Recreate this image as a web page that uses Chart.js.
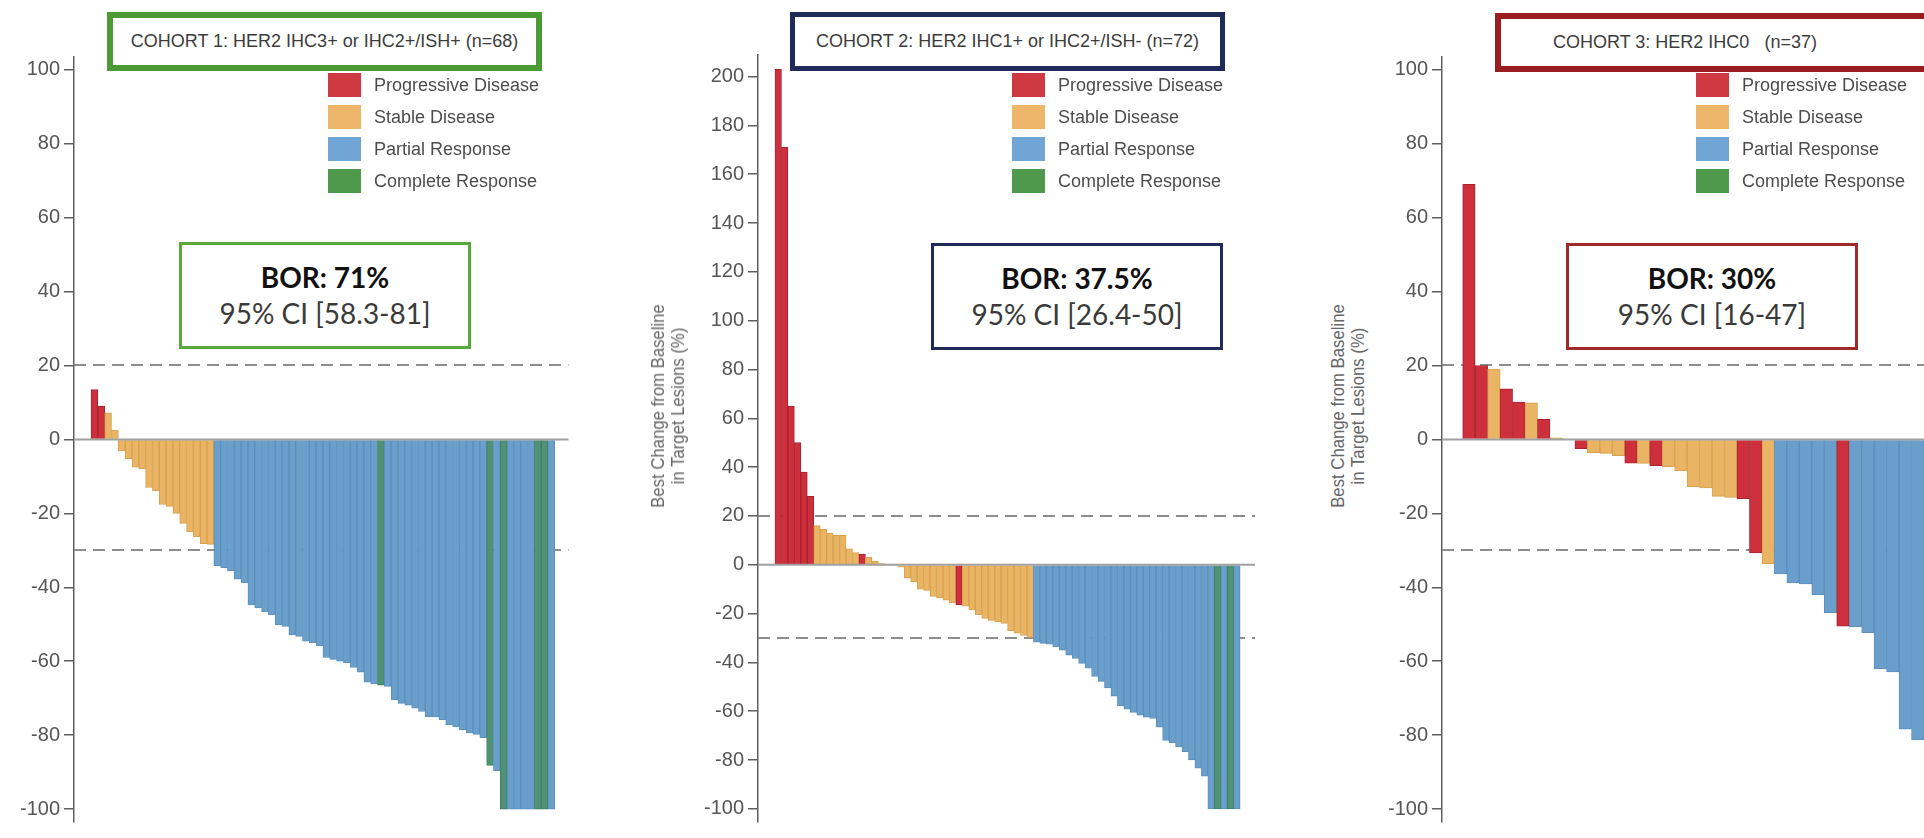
<!DOCTYPE html>
<html>
<head>
<meta charset="utf-8">
<script src="https://cdn.jsdelivr.net/npm/chart.js@4.4.1/dist/chart.umd.min.js"></script>
<style>
html, body { margin: 0; padding: 0; background: #fff; }
body { width: 1924px; height: 838px; overflow: hidden; position: relative; font-family: "Liberation Sans", Arial, sans-serif; }
canvas { position: absolute; top: 0; }
.cohort { position: absolute; box-sizing: border-box; height: 59px; background: #fff; font-size: 18px; color: #3c3c3c; white-space: nowrap; text-align: center; }
.legend { position: absolute; top: 73px; font-size: 18px; color: #4d4d4d; }
.legend div { position: relative; height: 32px; line-height: 24px; padding-left: 46px; white-space: nowrap; }
.legend span { position: absolute; left: 0; top: 0; width: 33px; height: 24px; }
.bor { position: absolute; box-sizing: border-box; width: 292px; height: 107px; border: 3px solid; background: #fff; text-align: center; font-family: Lato, "Open Sans", sans-serif; font-size: 28px; line-height: 36px; padding-top: 14px; color: #3a3a3a; }
.bor b { color: #111; }
.ytitle { position: absolute; width: 260px; height: 40px; font-size: 19px; line-height: 20px; color: #666; text-align: center; transform: rotate(-90deg) scaleX(0.88); white-space: nowrap; }
</style>
</head>
<body>
<canvas id="c1" width="600" height="838" style="left:0px"></canvas>
<canvas id="c2" width="600" height="838" style="left:680px"></canvas>
<canvas id="c3" width="554" height="838" style="left:1370px"></canvas>

<div class="cohort" style="left:107px; top:12px; width:435px; border:6px solid #4b9a33; line-height:47px;">COHORT 1: HER2 IHC3+ or IHC2+/ISH+ (n=68)</div>
<div class="cohort" style="left:790px; top:12px; width:435px; border:5px solid #1f2c5a; line-height:49px;">COHORT 2: HER2 IHC1+ or IHC2+/ISH- (n=72)</div>
<div class="cohort" style="left:1495px; top:13px; width:480px; border:6px solid #9a1e20; line-height:46px; text-align:left; padding-left:52px;">COHORT 3: HER2 IHC0&nbsp;&nbsp;&nbsp;(n=37)</div>

<div class="legend" id="leg1" style="left:328px"></div>
<div class="legend" id="leg2" style="left:1012px"></div>
<div class="legend" id="leg3" style="left:1696px"></div>

<div class="bor" style="left:179px; top:242px; border-color:#5aa83c;"><b>BOR: 71%</b><br>95% CI [58.3-81]</div>
<div class="bor" style="left:931px; top:243px; border-color:#1f2c5a;"><b>BOR: 37.5%</b><br>95% CI [26.4-50]</div>
<div class="bor" style="left:1566px; top:243px; border-color:#a02a2a;"><b>BOR: 30%</b><br>95% CI [16-47]</div>

<div class="ytitle" style="left:538px; top:386px;">Best Change from Baseline<br>in Target Lesions (%)</div>
<div class="ytitle" style="left:1218px; top:386px;">Best Change from Baseline<br>in Target Lesions (%)</div>

<script>
// P = progressive, S = stable, R = partial response, C = complete response
const LEGEND_LABELS = ['Progressive Disease', 'Stable Disease', 'Partial Response', 'Complete Response'];
const LEGEND_CODES = ['P', 'S', 'R', 'C'];
const LEGEND_COLORS = { P: '#cf3941', S: '#eeb66b', R: '#70a5d5', C: '#4e994b' };
const BAR_FILL = { P: '#cd2f3c', S: '#e9b463', R: '#6b9fcb', C: '#4f9276' };
const BAR_EDGE = { P: '#a8232f', S: '#d9a04e', R: '#5b8fbc', C: '#417f63' };

const REF_LINES = [20, -30];
const TICKS_100 = [100, 80, 60, 40, 20, 0, -20, -40, -60, -80, -100];
const TICKS_200 = [200, 180, 160, 140, 120, 100, 80, 60, 40, 20, 0, -20, -40, -60, -80, -100];

const C1_VALUES = [13.5, 9, 7.2, 2.5, -3.1, -5.2, -7.5, -7.9, -13, -13.9, -17.6, -18.1, -20, -22.7, -25, -26.3, -28.2, -28.4,
    -34.2, -34.7, -35.6, -37.8, -38.8, -44.8, -45.6, -46.6, -47.5, -50.2, -50.6, -52.8, -53.3, -54.6, -55, -55.9,
    -59, -59.5, -60, -60.4, -61.7, -63, -65.7, -66.1, -66.5, -66.8, -70.5, -71.4, -71.9, -72.7, -73.6, -75,
    -75.1, -75.8, -77.2, -77.8, -78.5, -79.4, -79.8, -80.7, -88.2, -89.6, -100, -100, -100, -100, -100, -100, -100, -100];
const C1_STATUS = ['P', 'P', 'S', 'S', 'S', 'S', 'S', 'S', 'S', 'S', 'S', 'S', 'S', 'S', 'S', 'S', 'S', 'S',
    'R', 'R', 'R', 'R', 'R', 'R', 'R', 'R', 'R', 'R', 'R', 'R', 'R', 'R', 'R', 'R',
    'R', 'R', 'R', 'R', 'R', 'R', 'R', 'R', 'C', 'R', 'R', 'R', 'R', 'R', 'R', 'R',
    'R', 'R', 'R', 'R', 'R', 'R', 'R', 'R', 'C', 'R', 'C', 'R', 'R', 'R', 'R', 'C', 'C', 'R'];

const C2_VALUES = [203, 171, 65, 50, 38, 28, 16, 14.5, 13, 12, 12, 6.5, 5, 4.3, 3, 1.5, 0.5, 0.2, -0.3, -1,
    -5.5, -7, -10, -10.5, -13, -13.5, -14.5, -15.5, -16.5, -17, -18.5, -20.5, -22, -22.8, -23.3, -24, -27, -28, -29, -29.8,
    -31.7, -32.2, -32.5, -33.7, -35, -37, -38.4, -40.4, -42.4, -45.8, -47.8, -50.5, -53.8, -57.8, -59.2, -60.5,
    -61.6, -62.5, -63, -66.5, -72, -73, -74.6, -76.6, -80, -83.3, -86.6, -100, -100, -100, -100, -100];
const C2_STATUS = ['P', 'P', 'P', 'P', 'P', 'P', 'S', 'S', 'S', 'S', 'S', 'S', 'S', 'P', 'S', 'S', 'S', 'S', 'S', 'S',
    'S', 'S', 'S', 'S', 'S', 'S', 'S', 'S', 'P', 'S', 'S', 'S', 'S', 'S', 'S', 'S', 'S', 'S', 'S', 'S',
    'R', 'R', 'R', 'R', 'R', 'R', 'R', 'R', 'R', 'R', 'R', 'R', 'R', 'R', 'R', 'R',
    'R', 'R', 'R', 'R', 'R', 'R', 'R', 'R', 'R', 'R', 'R', 'R', 'C', 'R', 'C', 'R'];

const C3_VALUES = [69, 20, 19, 13.7, 10.1, 9.9, 5.4, 0.4, 0, -2.5, -3.6, -3.8, -4.4, -6.4, -6.5, -7.1, -7.4, -8.5,
    -12.8, -13.1, -15.4, -15.7, -16, -30.7, -33.6, -36.4, -38.8, -39.1, -42, -46.9, -50.5, -50.7, -52.3,
    -62.1, -62.9, -78.4, -81.3];
const C3_STATUS = ['P', 'P', 'S', 'P', 'P', 'S', 'P', 'S', 'S', 'P', 'S', 'S', 'S', 'P', 'S', 'P', 'S', 'S',
    'S', 'S', 'S', 'S', 'P', 'P', 'S', 'R', 'R', 'R', 'R', 'R', 'P', 'R', 'R',
    'R', 'R', 'R', 'R'];

const refLinesPlugin = {
    id: 'refLines',
    beforeDatasetsDraw(chart) {
        const { ctx, chartArea, scales } = chart;
        ctx.save();
        ctx.strokeStyle = '#8d8d8d';
        ctx.lineWidth = 2;
        ctx.setLineDash([12, 7]);
        REF_LINES.forEach(v => {
            const py = Math.round(scales.y.getPixelForValue(v));
            ctx.beginPath();
            ctx.moveTo(chartArea.left, py);
            ctx.lineTo(chartArea.right, py);
            ctx.stroke();
        });
        ctx.restore();
    },
    afterDatasetsDraw(chart) {
        const { ctx, chartArea, scales } = chart;
        const py = scales.y.getPixelForValue(0);
        ctx.save();
        ctx.strokeStyle = '#a0a0a0';
        ctx.lineWidth = 2;
        ctx.beginPath();
        ctx.moveTo(chartArea.left, py);
        ctx.lineTo(chartArea.right, py);
        ctx.stroke();
        ctx.restore();
    }
};

function fillLegend(id) {
    const el = document.getElementById(id);
    LEGEND_CODES.forEach((code, i) => {
        const row = document.createElement('div');
        row.innerHTML = '<span style="background:' + LEGEND_COLORS[code] + '"></span>' + LEGEND_LABELS[i];
        el.appendChild(row);
    });
}

function createChart(id, values, status, ticks, cfg) {
    return new Chart(document.getElementById(id), {
        type: 'bar',
        plugins: [refLinesPlugin],
        data: {
            datasets: [{
                data: values.map((v, i) => ({ x: i, y: v })),
                backgroundColor: status.map(s => BAR_FILL[s]),
                borderColor: status.map(s => BAR_EDGE[s]),
                borderWidth: 1,
                categoryPercentage: 1,
                barPercentage: 1
            }]
        },
        options: {
            responsive: false,
            animation: false,
            layout: { padding: { left: 0, right: cfg.right, top: cfg.top, bottom: 0 } },
            plugins: { legend: { display: false }, tooltip: { enabled: false } },
            scales: {
                x: { type: 'linear', min: cfg.xMin, max: cfg.xMax, offset: false, display: false },
                y: {
                    min: cfg.yMin,
                    max: cfg.yMax,
                    afterBuildTicks: scale => { scale.ticks = ticks.map(v => ({ value: v })); },
                    afterFit: scale => { scale.width = cfg.axis; },
                    border: { color: '#5e5e5e', width: 1.5 },
                    grid: { drawOnChartArea: false, drawTicks: true, tickLength: 10, color: '#5e5e5e', lineWidth: 1.5 },
                    ticks: { autoSkip: false, color: '#555', padding: 4, font: { family: 'Liberation Sans', size: 20 } }
                }
            }
        }
    });
}

fillLegend('leg1');
fillLegend('leg2');
fillLegend('leg3');

createChart('c1', C1_VALUES, C1_STATUS, TICKS_100,
    { axis: 74, right: 31.5, top: 56.8, xMin: -3, xMax: 69.5, yMin: -103.5, yMax: 103.5 });
createChart('c2', C2_VALUES, C2_STATUS, TICKS_200,
    { axis: 78, right: 25, top: 55.1, xMin: -3.13, xMax: 73.8, yMin: -105.4, yMax: 208.8 });
createChart('c3', C3_VALUES, C3_STATUS, TICKS_100,
    { axis: 72, right: 0, top: 56.8, xMin: -2.16, xMax: 36.5, yMin: -103.5, yMax: 103.5 });
</script>
</body>
</html>
